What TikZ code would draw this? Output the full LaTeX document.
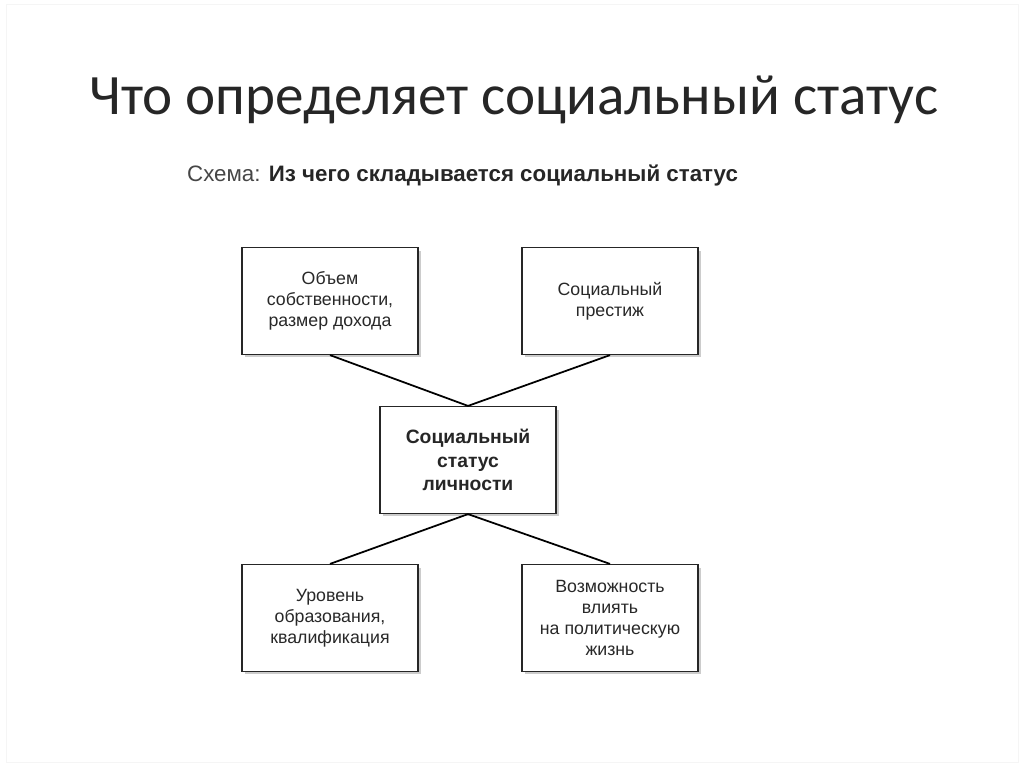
\documentclass[tikz,border=0pt]{standalone}
\usepackage{fontspec}
\setmainfont{Liberation Sans}
\newfontfamily\titlefont{Carlito}
\usetikzlibrary{shadows}
\definecolor{txtgray}{RGB}{40,40,40}
\definecolor{subgray}{RGB}{70,70,70}
\tikzset{
  box/.style={draw=black!85, line width=0.7pt, fill=white,
    minimum width=3.52cm, minimum height=2.14cm, align=center,
    font=\fontsize{10.1}{12}\selectfont, text=txtgray,
    drop shadow={shadow xshift=0.06cm, shadow yshift=-0.06cm, opacity=0.4}},
  link/.style={draw=black, line width=1pt}
}
\begin{document}
\begin{tikzpicture}[x=0.02cm,y=-0.02cm]
  \useasboundingbox (0,0) rectangle (1024,767);
  \fill[white] (0,0) rectangle (1024,767);
  \draw[black!4] (6,4) rectangle (1018,762);

  % Title
  \node[font=\titlefont\fontsize{32.5}{38}\selectfont, text=black!85] (title) at (514,100) {Что определяет социальный статус};
  \node[font=\fontsize{12.7}{15}\selectfont, text=subgray, anchor=west] (sub) at (181,176) {Схема: \textbf{\textcolor{black!85}{Из чего складывается социальный статус}}};

  % Boxes
  \node[box] (inc) at (330,301) {Объем\\собственности,\\размер дохода};
  \node[box] (prest) at (610,301) {Социальный\\престиж};
  \node[box, font=\bfseries\fontsize{11}{13.6}\selectfont, text=black!85] (status) at (468,460) {Социальный\\статус\\личности};
  \node[box] (edu) at (330,618) {Уровень\\образования,\\квалификация};
  \node[box] (pol) at (610,618) {Возможность\\влиять\\на политическую\\жизнь};

  % Links
  \draw[link] (inc.south) -- (status.north);
  \draw[link] (prest.south) -- (status.north);
  \draw[link] (status.south) -- (edu.north);
  \draw[link] (status.south) -- (pol.north);
\end{tikzpicture}
\end{document}
